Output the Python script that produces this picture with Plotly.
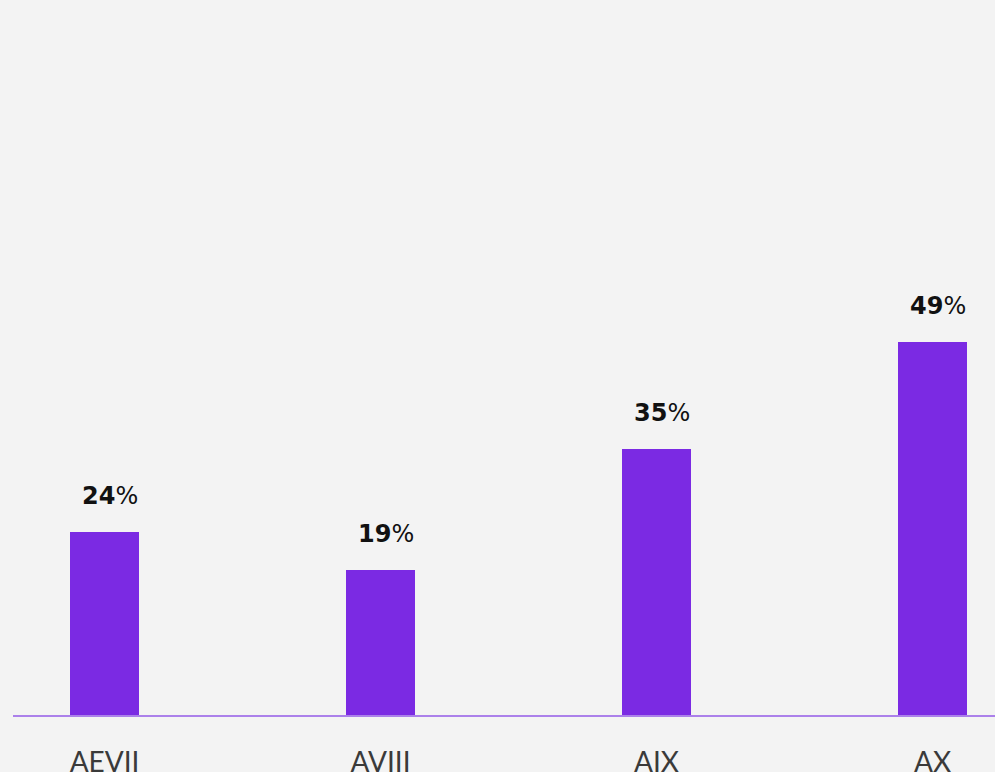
import plotly.graph_objects as go

# values
categories = ["AEVII", "AVIII", "AIX", "AX"]
values = [24, 19, 35, 49]
label_text = ["<b>%d</b>%%" % v for v in values]

bg = "#f3f3f3"
bar_color = "#7b2ae3"

fig = go.Figure()
fig.add_trace(go.Bar(
    x=categories, y=values,
    width=0.25,
    marker=dict(color=bar_color, line=dict(width=0)),
    hoverinfo="skip",
))

# labels above each bar
for c, v, t in zip(categories, values, label_text):
    fig.add_annotation(x=c, y=v, text=t, showarrow=False,
                       yanchor="middle", yshift=36, xshift=5,
                       font=dict(family="DejaVu Sans", size=24, color="#111111"))

fig.update_xaxes(
    range=[-0.3315, 3.2264],
    showline=True, linecolor="#ab80ea", linewidth=1.5,
    showgrid=False, zeroline=False, automargin=False,
    ticks="", ticklabelstandoff=22,
    tickfont=dict(family="Lato", size=28, color="#3a3a3a"),
)
fig.update_yaxes(range=[0, 93.93], visible=False, showgrid=False,
                 zeroline=False, automargin=False)

fig.update_layout(
    width=995, height=772,
    margin=dict(l=13, r=0, t=0, b=57),
    paper_bgcolor=bg, plot_bgcolor=bg,
    showlegend=False,
    bargap=0,
)

# drop the page margin so the figure fills the window
fig.write_html("out.html",
               config={"displayModeBar": False},
               post_script="document.body.style.margin='0';"
                           "document.body.style.overflow='hidden';"
                           "document.body.style.background='#f3f3f3';")
